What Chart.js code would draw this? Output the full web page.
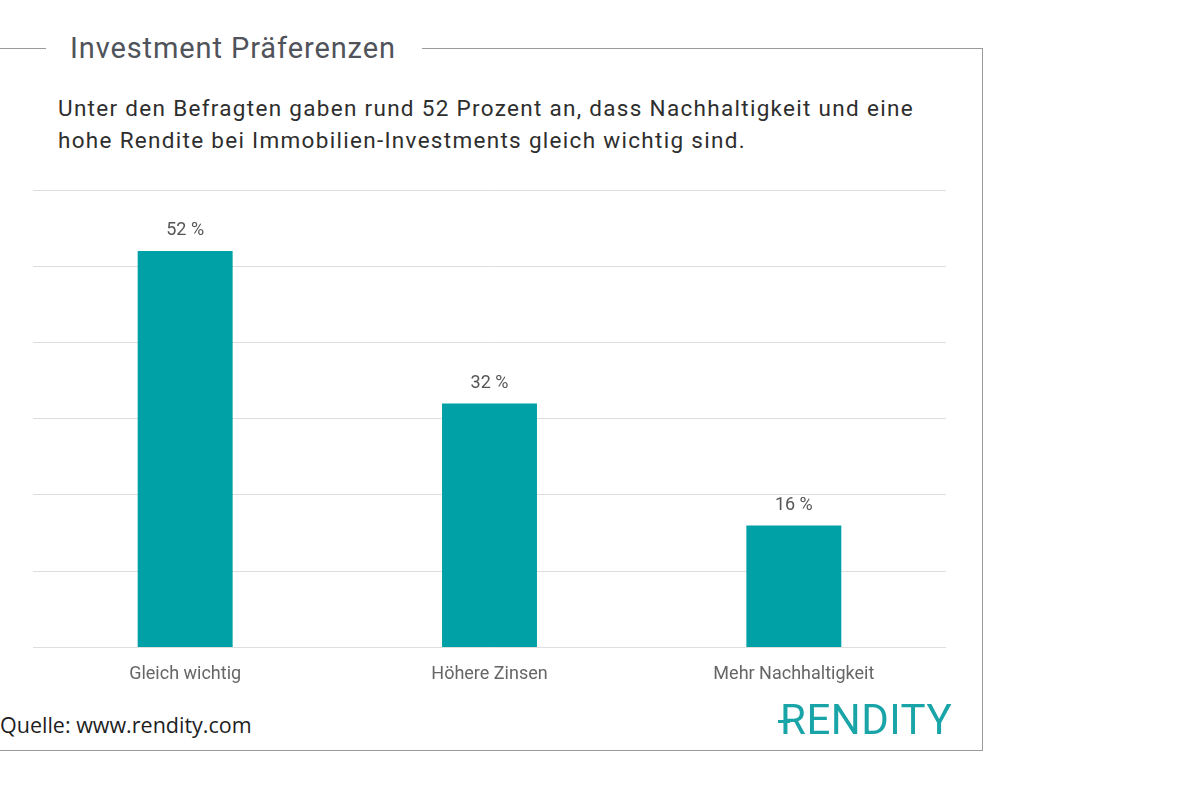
<!DOCTYPE html>
<html lang="de">
<head>
    <meta charset="UTF-8">
    <title>Investment Präferenzen</title>
    <style>
        html, body { margin: 0; padding: 0; background: #fff; }
        body { width: 1200px; height: 800px; position: relative; overflow: hidden; font-family: Roboto, "Noto Sans", sans-serif; }
        .frame {
            position: absolute; left: 0; top: 48px; width: 982px; height: 701px;
            border-top: 1px solid #9a9a9a; border-right: 1px solid #9a9a9a; border-bottom: 1px solid #9a9a9a;
        }
        .title {
            position: absolute; left: 46px; top: 31px; padding: 0 26px 0 24px; background: #fff;
            font-size: 29px; color: #50535a; letter-spacing: 0.9px;
        }
        .subtitle {
            position: absolute; left: 58px; top: 92px; font-size: 22.5px; line-height: 32px; color: #2e2e2e;
            letter-spacing: 1.3px;
        }
        .source { position: absolute; left: 0; top: 710px; font-size: 21.5px; color: #1e1e1e; font-family: "Open Sans", sans-serif; }
        .logo {
            position: absolute; left: 780px; top: 695px; font-size: 42px; color: #19a4a8;
            font-family: Roboto, sans-serif; font-weight: 400; letter-spacing: 0.5px;
        }
        .logo .bar { position: absolute; left: -2px; top: 25px; width: 12px; height: 3px; background: #19a4a8; }
        #chartBox { position: absolute; left: 0; top: 170px; width: 980px; height: 540px; }
    </style>
</head>
<body>

    <div class="frame"></div>
    <div class="title">Investment Präferenzen</div>
    <div class="subtitle">
        Unter den Befragten gaben rund 52 Prozent an, dass Nachhaltigkeit und eine<br>
        hohe Rendite bei Immobilien-Investments gleich wichtig sind.
    </div>

    <div id="chartBox"><canvas id="myChart"></canvas></div>

    <div class="source">Quelle: www.rendity.com</div>
    <div class="logo">RENDITY<span class="bar"></span></div>

    <script src="https://cdn.jsdelivr.net/npm/chart.js"></script>
    <script>
        // values
        var categories = ['Gleich wichtig', 'Höhere Zinsen', 'Mehr Nachhaltigkeit'];
        var shares = [52, 32, 16];
        var yTicks = [0, 10, 20, 30, 40, 50, 60];

        var barColor = '#00a1a6';

        // value labels above the bars
        var valueLabels = {
            id: 'valueLabels',
            afterDatasetsDraw: function(chart) {
                var ctx = chart.ctx;
                var meta = chart.getDatasetMeta(0);
                ctx.save();
                ctx.font = '18px Roboto, sans-serif';
                ctx.fillStyle = '#555';
                ctx.textAlign = 'center';
                ctx.textBaseline = 'middle';
                meta.data.forEach(function(bar, i) {
                    ctx.fillText(shares[i] + ' %', bar.x, bar.y - 20);
                });
                ctx.restore();
            }
        };

        var ctx = document.getElementById('myChart').getContext('2d');
        var myChart = new Chart(ctx, {
            type: 'bar',
            data: {
                labels: categories,
                datasets: [{
                    data: shares,
                    backgroundColor: barColor,
                    categoryPercentage: 1,
                    barPercentage: 0.312
                }]
            },
            options: {
                responsive: true,
                maintainAspectRatio: false,
                animation: false,
                layout: { padding: { left: 33, right: 34, top: 20, bottom: 17 } },
                plugins: {
                    legend: { display: false },
                    tooltip: { enabled: false }
                },
                scales: {
                    x: {
                        grid: { display: false },
                        border: { display: false },
                        ticks: {
                            color: '#666',
                            font: { size: 18, family: 'Roboto, sans-serif' },
                            padding: 8
                        }
                    },
                    y: {
                        min: yTicks[0],
                        max: yTicks[yTicks.length - 1],
                        afterBuildTicks: function(axis) {
                            axis.ticks = yTicks.map(function(v) { return { value: v }; });
                        },
                        grid: { color: '#dedede', lineWidth: 1, drawTicks: false },
                        border: { display: false },
                        ticks: { display: false }
                    }
                }
            },
            plugins: [valueLabels]
        });
    </script>
</body>
</html>
